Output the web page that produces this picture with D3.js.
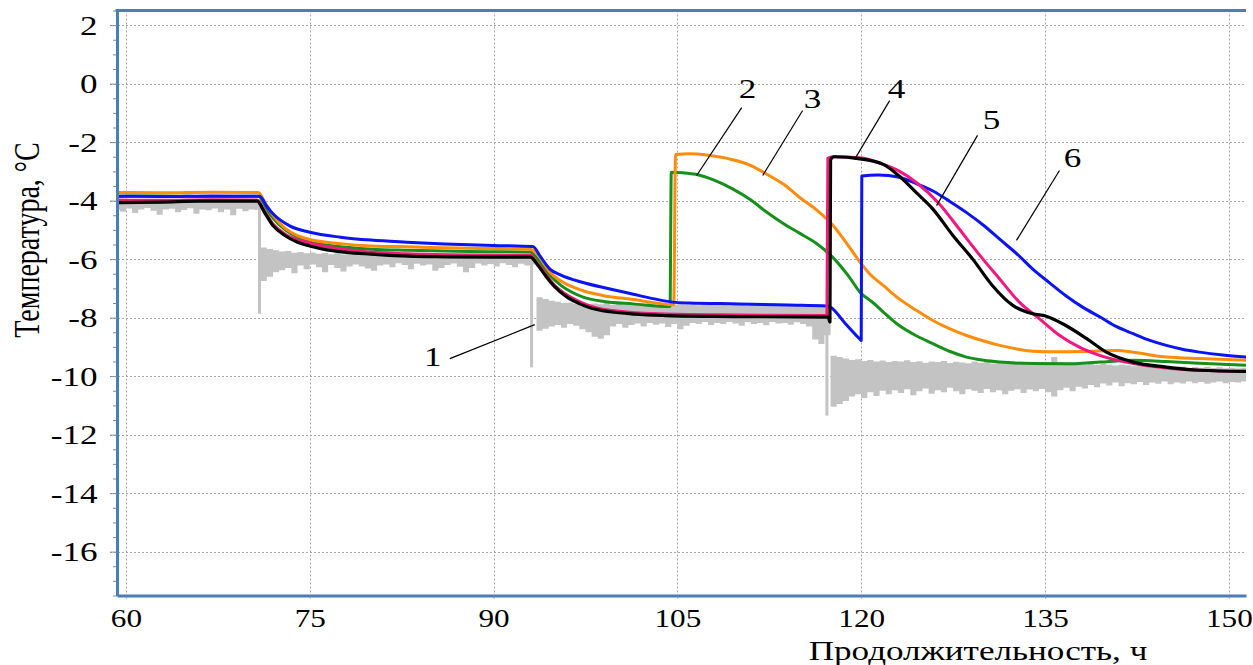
<!DOCTYPE html>
<html>
<head>
<meta charset="utf-8">
<script src="https://cdn.jsdelivr.net/npm/d3@7"></script>
<style>
  body { margin: 0; background: #fff; }
  text { font-family: "Liberation Serif", "Times New Roman", serif; fill: #000; }
</style>
</head>
<body>
<svg id="chart" width="1253" height="665"></svg>
<script>
// ticks
var xTicks = [60, 75, 90, 105, 120, 135, 150]
var yTicks = [2, 0, -2, -4, -6, -8, -10, -12, -14, -16]

// curve 1 (grey, noisy): band top / bottom every 0.5 h starting at 59 h
var greyHi = [
  -3.95,-3.97,-3.95,-3.98,-3.96,-3.95,-3.97,-3.99,-3.95,-3.96,
  -3.98,-3.95,-3.97,-3.96,-3.95,-3.98,-3.96,-3.95,-3.97,-3.95,
  -3.96,-3.98,-3.95,-3.96,
  -5.60,-5.65,-5.70,-5.74,-5.72,-5.78,-5.76,-5.80,-5.77,-5.82,
  -5.79,-5.83,-5.80,-5.84,-5.81,-5.83,-5.80,-5.85,-5.82,-5.84,
  -5.81,-5.86,-5.83,-5.85,-5.82,-5.84,-5.86,-5.83,-5.85,-5.87,
  -5.84,-5.86,-5.83,-5.88,-5.85,-5.87,-5.84,-5.86,-5.88,-5.85,
  -5.87,-5.86,-5.88,-5.86,-5.87,
  -7.30,-7.36,-7.42,-7.46,-7.50,-7.48,-7.52,-7.50,-7.55,-7.52,
  -7.54,-7.50,-7.56,-7.53,-7.55,-7.52,-7.57,-7.54,-7.50,-7.55,
  -7.53,-7.57,-7.55,-7.52,-7.56,-7.54,-7.58,-7.55,-7.53,-7.57,
  -7.55,-7.58,-7.54,-7.56,-7.59,-7.55,-7.57,-7.54,-7.58,-7.56,
  -7.55,-7.58,-7.56,-7.60,-7.57,-7.55,-7.58,-7.60,
  -9.30,-9.35,-9.40,-9.45,-9.42,-9.48,-9.45,-9.50,-9.47,-9.52,
  -9.48,-9.50,-9.46,-9.52,-9.49,-9.54,-9.50,-9.52,-9.48,-9.55,
  -9.51,-9.53,-9.56,-9.50,-9.54,-9.52,-9.57,-9.53,-9.55,-9.50,
  -9.54,-9.56,-9.52,-9.55,-9.58,-9.54,-9.35,-9.52,-9.56,-9.58,
  -9.55,-9.60,-9.57,-9.62,-9.58,-9.61,-9.64,-9.60,-9.63,-9.66,
  -9.62,-9.65,-9.68,-9.64,-9.67,-9.70,-9.66,-9.68,-9.72,-9.69,
  -9.71,-9.68,-9.72,-9.70,-9.73,-9.71,-9.74,-9.72,-9.74
]
var greyLo = [
  -4.30,-4.38,-4.27,-4.42,-4.30,-4.25,-4.35,-4.48,-4.30,-4.28,
  -4.40,-4.32,-4.26,-4.45,-4.30,-4.33,-4.27,-4.40,-4.30,-4.50,
  -4.28,-4.36,-4.30,-4.32,
  -6.75,-6.60,-6.45,-6.38,-6.30,-6.48,-6.22,-6.35,-6.18,-6.28,
  -6.45,-6.20,-6.30,-6.42,-6.25,-6.18,-6.25,-6.32,-6.40,-6.22,
  -6.18,-6.28,-6.14,-6.20,-6.35,-6.16,-6.22,-6.18,-6.40,-6.30,
  -6.20,-6.15,-6.26,-6.45,-6.30,-6.15,-6.22,-6.17,-6.25,-6.14,
  -6.20,-6.28,-6.16,-6.22,-6.18,
  -8.45,-8.38,-8.30,-8.25,-8.35,-8.22,-8.28,-8.40,-8.50,-8.65,
  -8.72,-8.60,-8.30,-8.22,-8.35,-8.25,-8.20,-8.30,-8.18,-8.24,
  -8.20,-8.32,-8.22,-8.40,-8.28,-8.18,-8.22,-8.15,-8.25,-8.18,
  -8.22,-8.15,-8.20,-8.28,-8.16,-8.22,-8.18,-8.26,-8.15,-8.20,
  -8.18,-8.24,-8.16,-8.22,-8.30,-8.75,-8.90,-8.60,
  -11.05,-10.95,-10.85,-10.70,-10.62,-10.75,-10.55,-10.68,-10.50,-10.62,
  -10.48,-10.58,-10.45,-10.65,-10.52,-10.42,-10.60,-10.48,-10.55,-10.40,
  -10.52,-10.62,-10.45,-10.50,-10.58,-10.44,-10.55,-10.48,-10.62,-10.50,
  -10.45,-10.58,-10.46,-10.52,-10.44,-10.55,-10.70,-10.48,-10.40,-10.52,
  -10.36,-10.42,-10.30,-10.38,-10.25,-10.32,-10.22,-10.35,-10.24,-10.28,
  -10.20,-10.30,-10.22,-10.26,-10.18,-10.28,-10.22,-10.25,-10.18,-10.24,
  -10.20,-10.26,-10.22,-10.18,-10.24,-10.20,-10.22,-10.18,-10.22
]
// spikes of curve 1 at the steps: [time, top, bottom]
var greySpikes = [[70.9, -3.95, -7.87], [93.1, -5.85, -9.7], [117.2, -7.9, -11.35]]

// curves 2..6: [time h, temperature C]
var green = [
  [59.2,-3.85],[63,-3.84],[67,-3.86],[70.8,-3.85],[71.5,-4.3],[72,-4.6],[73,-5.0],[74,-5.25],
  [75,-5.4],[77.5,-5.58],[80,-5.66],[83,-5.7],[88,-5.74],[93,-5.76],[93.6,-6.0],[94.6,-6.55],
  [95.5,-6.9],[97.3,-7.3],[99,-7.45],[101.4,-7.53],[104.4,-7.62],[104.5,-3.03],[105.5,-3.05],
  [106.5,-3.1],[108,-3.3],[109.5,-3.6],[111,-3.98],[112.3,-4.4],[113.7,-4.8],[115,-5.12],
  [116.3,-5.45],[117.7,-5.95],[119,-6.6],[119.9,-7.13],[121,-7.5],[121.8,-7.81],[123.1,-8.27],
  [124.5,-8.62],[125.85,-8.89],[127.2,-9.15],[128.6,-9.35],[130,-9.46],[131.3,-9.52],[134,-9.57],
  [136.7,-9.58],[138,-9.56],[139.5,-9.52],[142.2,-9.46],[144.9,-9.5],[147.6,-9.56],[151.5,-9.63]
]
var orange = [
  [59.2,-3.72],[63,-3.73],[67,-3.71],[70.8,-3.72],[71.4,-4.1],[72,-4.5],[73,-4.95],[74,-5.2],
  [75,-5.33],[77.5,-5.47],[80,-5.55],[83,-5.58],[88,-5.63],[93,-5.66],[93.6,-5.85],[94.6,-6.45],
  [95.5,-6.75],[97.3,-7.08],[99,-7.25],[101.4,-7.38],[104.7,-7.56],[104.85,-2.42],[106,-2.4],
  [107.5,-2.45],[109.5,-2.6],[111,-2.8],[112.3,-3.1],[113.7,-3.45],[115,-3.9],[116.3,-4.3],
  [117.7,-4.85],[118.8,-5.45],[119.9,-6.1],[120.8,-6.55],[121.8,-6.9],[123.1,-7.36],[124.5,-7.75],
  [125.85,-8.1],[127.2,-8.38],[128.6,-8.61],[130,-8.8],[131.3,-8.95],[132.7,-9.07],[134,-9.15],
  [136,-9.17],[138.1,-9.16],[140.8,-9.12],[142.2,-9.18],[143.5,-9.27],[144.9,-9.35],[147.6,-9.4],
  [151.5,-9.46]
]
var blue = [
  [59.2,-3.85],[63,-3.86],[67,-3.84],[70.9,-3.85],[71.5,-4.2],[72,-4.45],[73.4,-4.87],[75,-5.08],
  [77.5,-5.25],[80,-5.35],[82.9,-5.42],[86,-5.48],[90,-5.53],[93.2,-5.57],[93.8,-5.9],[94.6,-6.34],
  [95.5,-6.55],[97.3,-6.8],[99.5,-7.02],[101.4,-7.2],[103,-7.35],[104.6,-7.47],[106,-7.5],
  [110,-7.53],[114,-7.57],[117.2,-7.6],[117.45,-7.63],[118.7,-8.2],[119.9,-8.74],[120.0,-8.78],
  [120.05,-3.16],[121.4,-3.12],[123.1,-3.2],
  [124.5,-3.42],[125.85,-3.67],[127.2,-4.02],[128.6,-4.41],[130,-4.85],[131.3,-5.32],[132.7,-5.82],
  [134,-6.34],[135.4,-6.82],[136.7,-7.25],[138.1,-7.65],[139.5,-7.98],[140.8,-8.3],[142.2,-8.55],
  [143.5,-8.77],[144.9,-8.95],[146.2,-9.08],[147.6,-9.18],[149.5,-9.28],[151.5,-9.35]
]
var pink = [
  [59.2,-3.98],[63,-3.99],[67,-3.97],[70.7,-3.98],[71.3,-4.35],[72,-4.8],[73,-5.15],[75,-5.45],
  [78,-5.68],[83,-5.82],[88,-5.86],[93,-5.87],[93.6,-6.15],[95,-6.9],[97,-7.45],[99.5,-7.75],
  [104,-7.88],[110,-7.91],[117.2,-7.93],[117.28,-2.55],[117.7,-2.5],[119.9,-2.53],[121.8,-2.76],
  [123.1,-2.99],[124.5,-3.38],[126.4,-4.12],[128,-4.97],[129.7,-5.88],[131.3,-6.68],[132.9,-7.47],
  [134.55,-8.04],[136.2,-8.61],[137.8,-9.01],[139.45,-9.29],[142.2,-9.57],[144.9,-9.72],
  [147.6,-9.8],[151.5,-9.84]
]
var black = [
  [59.2,-4.07],[63,-4.05],[66,-4.02],[70.7,-4.02],[71.3,-4.4],[72,-4.85],[73,-5.2],[74,-5.42],
  [75,-5.55],[76,-5.65],[78,-5.77],[80,-5.83],[83,-5.9],[86,-5.92],[90,-5.93],[93,-5.93],
  [93.6,-6.2],[94.3,-6.6],[95,-6.95],[96,-7.3],[97,-7.52],[98,-7.68],[99.5,-7.8],[101.5,-7.88],
  [104,-7.93],[108,-7.96],[112,-7.97],[117.3,-7.98],[117.45,-8.15],[117.5,-2.6],[117.8,-2.5],
  [119.9,-2.57],[121.8,-2.76],[123.1,-3.16],[124.5,-3.73],[125.85,-4.29],[127.5,-5.2],[129.1,-6.0],
  [130.7,-6.9],[132.4,-7.59],[134,-7.87],[135.1,-7.95],[136.7,-8.27],[138.4,-8.72],[140,-9.18],
  [142.2,-9.52],[144.9,-9.69],[147.6,-9.8],[151.5,-9.84]
]

// curve numbers and their leader lines (data units)
var labelText = ["1", "2", "3", "4", "5", "6"]
var labelPos = [[85.04,-9.36],[110.73,-0.17],[116.03,-0.51],[122.89,-0.17],[130.64,-1.26],[137.24,-2.53]]
var leaders = [
  [86.43,-9.40,93.36,-8.24],
  [110.25,-0.82,106.57,-3.14],
  [115.22,-0.92,111.96,-3.14],
  [122.32,-0.58,119.46,-2.59],
  [129.49,-1.77,126.15,-4.17],
  [136.18,-2.97,132.67,-5.36]
]

var pL = 117, pR = 1246, pT = 10.5, pB = 595.5
var stretch = 1.3   // text in the source picture is widened horizontally
var frameColor = "#4a7ebb"

var svg = d3.select("#chart")
var x = d3.scaleLinear().domain([59.27, 151.4]).range([pL, pR])
var y = d3.scaleLinear().domain([-17.5, 2.5]).range([pB, pT])

svg.append("clipPath").attr("id", "clip")
  .append("rect").attr("x", pL).attr("y", pT).attr("width", pR - pL).attr("height", pB - pT)

// grid
var grid = svg.append("g").attr("stroke", "#a6a6a6").attr("stroke-width", 1).attr("stroke-dasharray", "2,2")
grid.selectAll("line.h").data(yTicks).enter().append("line")
  .attr("x1", pL - 7).attr("x2", pR)
  .attr("y1", d => Math.round(y(d)) + 0.5).attr("y2", d => Math.round(y(d)) + 0.5)
grid.selectAll("line.v").data(xTicks).enter().append("line")
  .attr("x1", d => Math.round(x(d)) + 0.5).attr("x2", d => Math.round(x(d)) + 0.5)
  .attr("y1", pT).attr("y2", pB + 3)

var plot = svg.append("g").attr("clip-path", "url(#clip)")

// curve 1
var greyT = greyHi.map((d, i) => 59 + i * 0.5)
var band = d3.area()
  .curve(d3.curveStepAfter)
  .x((d, i) => x(greyT[i]))
  .y0((d, i) => y(greyLo[i]))
  .y1((d, i) => y(greyHi[i]))
plot.append("path").datum(greyHi).attr("fill", "#c3c3c3").attr("d", band)
plot.selectAll("line.spike").data(greySpikes).enter().append("line")
  .attr("stroke", "#c3c3c3").attr("stroke-width", 3)
  .attr("x1", d => x(d[0])).attr("x2", d => x(d[0]))
  .attr("y1", d => y(d[1])).attr("y2", d => y(d[2]))

var line = d3.line().curve(d3.curveMonotoneX).x(d => x(d[0])).y(d => y(d[1]))
var series = [
  { data: green, color: "#16901a", w: 3 },
  { data: orange, color: "#ff8c0a", w: 3 },
  { data: blue, color: "#0a14f5", w: 3 },
  { data: pink, color: "#f2187f", w: 3 },
  { data: black, color: "#000000", w: 3.2 }
]
series.forEach(s => {
  plot.append("path").datum(s.data)
    .attr("fill", "none").attr("stroke", s.color).attr("stroke-width", s.w)
    .attr("stroke-linejoin", "round").attr("d", line)
})

// leaders and numbers
svg.selectAll("line.leader").data(leaders).enter().append("line")
  .attr("stroke", "#000").attr("stroke-width", 1.2)
  .attr("x1", d => x(d[0])).attr("y1", d => y(d[1]))
  .attr("x2", d => x(d[2])).attr("y2", d => y(d[3]))
svg.selectAll("text.num").data(labelText).enter().append("text")
  .attr("text-anchor", "middle").attr("font-size", 27)
  .attr("transform", (d, i) => "translate(" + x(labelPos[i][0]) + "," + (y(labelPos[i][1]) + 9) + ") scale(" + stretch + ",1)")
  .text(d => d)

// axes
var yMinor = d3.range(-17.5, 2.51, 0.5).filter(v => yTicks.indexOf(v) < 0)
svg.append("g").attr("transform", "translate(" + pL + ",0)")
  .call(d3.axisLeft(y).tickValues(yMinor).tickSize(4).tickSizeOuter(0).tickFormat(""))
  .call(g => g.select(".domain").remove())
  .selectAll("line").attr("stroke", "#8a8a8a")

var yAxis = svg.append("g").attr("transform", "translate(" + pL + ",0)")
  .call(d3.axisLeft(y).tickValues(yTicks).tickSize(7).tickSizeOuter(0).tickFormat(d => String(d)))
yAxis.select(".domain").attr("stroke", frameColor).attr("stroke-width", 3)
yAxis.selectAll(".tick line").attr("stroke", "#8a8a8a")
yAxis.selectAll(".tick text")
  .attr("font-size", 27).attr("x", -15).attr("dy", "0.34em")
  .attr("font-family", "Liberation Serif, serif").attr("fill", "#000")
  .attr("transform", "scale(" + stretch + ",1)")

var xAxis = svg.append("g").attr("transform", "translate(0," + pB + ")")
  .call(d3.axisBottom(x).tickValues(xTicks).tickSize(3).tickSizeOuter(0))
xAxis.select(".domain").attr("stroke", frameColor).attr("stroke-width", 3)
xAxis.selectAll(".tick line").attr("stroke", "#8a8a8a")
xAxis.selectAll(".tick text")
  .attr("font-size", 26).attr("y", 32).attr("dy", "0")
  .attr("font-family", "Liberation Serif, serif").attr("fill", "#000")
  .attr("transform", "scale(1.2,1)")

// top edge of the frame
svg.append("line").attr("stroke", frameColor).attr("stroke-width", 3)
  .attr("x1", pL - 1.5).attr("x2", pR).attr("y1", pT).attr("y2", pT)

// titles
svg.append("text").attr("text-anchor", "middle").attr("font-size", 27)
  .attr("transform", "translate(978,660) scale(" + stretch + ",1)")
  .text("Продолжительность, ч")
svg.append("text").attr("text-anchor", "middle").attr("font-size", 28)
  .attr("transform", "translate(39,240) scale(" + stretch + ",1) rotate(-90)")
  .text("Температура, °C")
</script>
</body>
</html>
